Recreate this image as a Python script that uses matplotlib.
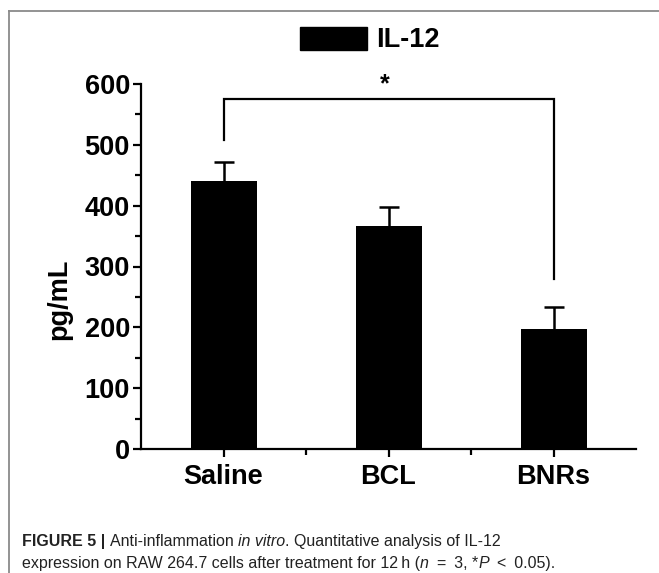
import matplotlib
matplotlib.use("Agg")
import matplotlib.pyplot as plt
from matplotlib.lines import Line2D
from matplotlib.ticker import MultipleLocator, FixedLocator

plt.rcParams['font.family'] = ['Liberation Sans', 'DejaVu Sans']

# ---- data ----
categories = ["Saline", "BCL", "BNRs"]
values = [441, 367, 198]
errors = [31, 30, 35]
series_label = "IL-12"
ylabel = "pg/mL"
yticks = [0, 100, 200, 300, 400, 500, 600]
bracket_y = 575
bracket_left_bottom = 508
bracket_right_bottom = 280
sig_mark = "*"

W, H = 659, 573
fig = plt.figure(figsize=(W / 100, H / 100), dpi=100)

ax_l, ax_r, ax_t, ax_b = 141, 636, 84, 449
ax = fig.add_axes([ax_l / W, 1 - ax_b / H, (ax_r - ax_l) / W, (ax_b - ax_t) / H])

x = list(range(len(categories)))
ax.bar(x, values, width=0.4, color="black", label=series_label, zorder=2)
eb = ax.errorbar(x, values, yerr=[[0] * len(errors), errors], fmt="none",
                 ecolor="black", elinewidth=1.8, capsize=7, capthick=1.8, zorder=1)
# keep only the upper caps (one-sided error bars)
for cl in list(eb[1]):
    if all(abs(yv - v) < 1e-9 for yv, v in zip(cl.get_ydata(), values)):
        cl.remove()

ax.set_xlim(-0.5, 2.5)
ax.set_ylim(0, 600)
ax.set_yticks(yticks)
ax.yaxis.set_minor_locator(MultipleLocator(50))
ax.set_xticks(x)
ax.set_xticklabels(categories)
ax.xaxis.set_minor_locator(FixedLocator([0.5, 1.5]))

for s in ["top", "right"]:
    ax.spines[s].set_visible(False)
for s in ["left", "bottom"]:
    ax.spines[s].set_linewidth(1.6)

tick_fs = 19.5
ax.tick_params(axis="both", which="major", length=6, width=1.6, labelsize=tick_fs, pad=2)
ax.tick_params(axis="both", which="minor", length=4, width=1.6)
for lab in ax.get_xticklabels() + ax.get_yticklabels():
    lab.set_fontweight("bold")
ax.tick_params(axis="x", which="major", pad=5)
ax.set_ylabel(ylabel, fontsize=tick_fs, fontweight="bold")
ax.yaxis.set_label_coords(-0.138, 0.41)

# significance bracket
ax.plot([0, 0, 2, 2], [bracket_left_bottom, bracket_y, bracket_y, bracket_right_bottom],
        color="black", lw=1.6, clip_on=False, solid_joinstyle="miter")
ax.text(0.98, bracket_y + 5, sig_mark, ha="center", va="bottom",
        fontsize=18, fontweight="bold", clip_on=False)

# legend
leg = fig.legend(handles=[plt.Rectangle((0, 0), 1, 1, color="black")], labels=[series_label],
                 loc="center", bbox_to_anchor=(370 / W, 1 - 40 / H), frameon=False,
                 handlelength=2.45, handleheight=0.95, handletextpad=0.35, borderpad=0,
                 prop={"size": tick_fs, "weight": "bold"})

# border lines
fig.add_artist(Line2D([9 / W, 1], [1 - 11 / H, 1 - 11 / H], color="#8a8a8a", lw=1.3,
                      transform=fig.transFigure))
fig.add_artist(Line2D([9 / W, 9 / W], [1 - 11 / H, 0], color="#8a8a8a", lw=1.3,
                      transform=fig.transFigure))

# caption with mixed styles
renderer = fig.canvas.get_renderer()
cap_size = 11.5
cap_color = "#222222"

def write_line(parts, x0, y0):
    xp = x0
    for txt, style in parts:
        kw = dict(fontsize=cap_size, color=cap_color, va="baseline", ha="left")
        if style == "b":
            kw["fontweight"] = "bold"
        elif style == "i":
            kw["fontstyle"] = "italic"
        t = fig.text(xp / W, 1 - y0 / H, txt, **kw)
        bb = t.get_window_extent(renderer=renderer)
        xp += bb.width

line1 = [("FIGURE 5 | ", "b"), ("Anti-inflammation ", "r"), ("in vitro", "i"),
         (". Quantitative analysis of IL-12", "r")]
line2 = [("expression on RAW 264.7 cells after treatment for 12\u2009h (", "r"), ("n", "i"),
         ("\u2002=\u20023, *", "r"), ("P", "i"), ("\u2002<\u20020.05).", "r")]
write_line(line1, 22, 546)
write_line(line2, 22, 568)

fig.savefig("out.png", dpi=100)
